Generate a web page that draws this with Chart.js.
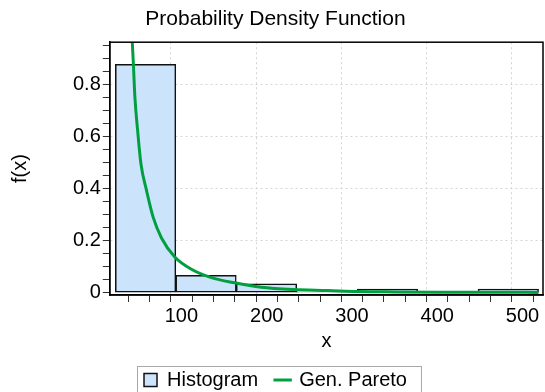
<!DOCTYPE html>
<html>
<head>
<meta charset="utf-8">
<script src="https://cdn.jsdelivr.net/npm/chart.js@4"></script>
<style>
  html, body { margin: 0; padding: 0; background: #fff; }
  #wrap { width: 545px; height: 392px; }
</style>
</head>
<body>
<div id="wrap"><canvas id="grafico" width="545" height="392"></canvas></div>
<script>
// histogram bins (centre of each bin) and relative frequencies
let binCenters = [57.95, 128.85, 199.75, 270.65, 341.55, 412.45, 483.35];
let histValues = [0.877, 0.067, 0.034, 0.003, 0.014, 0, 0.014];

// fitted Gen. Pareto density
let curveX = [41.5, 42.4, 43.6, 45.4, 48.6, 52.5, 59.1, 66.9, 76.6, 92.2, 111.7, 135, 162.3, 193.5, 232.4, 271.4, 306.4, 350, 400, 450, 518.8];
let curveY = [1.03, 0.959, 0.882, 0.753, 0.624, 0.495, 0.392, 0.289, 0.21, 0.137, 0.09, 0.058, 0.038, 0.021, 0.012, 0.0085, 0.0046, 0.003, 0.002, 0.0015, 0.001];

let xLabels = [100, 200, 300, 400, 500];
let yLabels = [0, 0.2, 0.4, 0.6, 0.8];

let fontFamily = '"Liberation Sans", Arial, sans-serif';

function isLabel(list, v) {
    return list.some(l => Math.abs(l - v) < 1e-6);
}

// box around the plot area and around the legend
let framePlugin = {
    id: 'frame',
    afterDraw(chart) {
        let ctx = chart.ctx;
        let a = chart.chartArea;
        ctx.save();
        ctx.strokeStyle = '#000';
        ctx.lineWidth = 1.5;
        ctx.strokeRect(a.left, a.top, a.right - a.left, a.bottom - a.top);
        let boxes = chart.legend.legendHitBoxes;
        if (boxes && boxes.length) {
            let l = Math.min(...boxes.map(b => b.left)) - 7;
            let r = Math.max(...boxes.map(b => b.left + b.width)) + 14;
            let mid = boxes[0].top + boxes[0].height / 2;
            ctx.strokeStyle = '#a8a8a8';
            ctx.lineWidth = 1;
            ctx.strokeRect(Math.round(l) + 0.5, Math.round(mid - 14) + 0.5, r - l, 30);
        }
        ctx.restore();
    }
};

let chart = new Chart('grafico', {
    data: {
        datasets: [{
            type: 'bar',
            label: 'Histogram',
            data: binCenters.map((x, i) => ({ x: x, y: histValues[i] })),
            backgroundColor: '#cce4fb',
            borderColor: '#111',
            borderWidth: 1.5,
            borderSkipped: false,
            barThickness: 'flex',
            barPercentage: 1,
            categoryPercentage: 1,
            pointStyle: 'rect',
            order: 2
        }, {
            type: 'line',
            label: 'Gen. Pareto',
            data: curveX.map((x, i) => ({ x: x, y: curveY[i] })),
            borderColor: '#00a040',
            backgroundColor: '#00a040',
            borderWidth: 3,
            pointRadius: 0,
            cubicInterpolationMode: 'monotone',
            pointStyle: 'line',
            order: 1
        }]
    },
    options: {
        responsive: false,
        animation: false,
        layout: { padding: { left: 8, right: 2, top: 0, bottom: -8 } },
        plugins: {
            title: {
                display: true,
                text: 'Probability Density Function',
                color: '#000',
                font: { family: fontFamily, size: 21, weight: 'normal' },
                padding: { top: 7, bottom: 10 }
            },
            legend: {
                position: 'bottom',
                labels: {
                    usePointStyle: true,
                    boxWidth: 13,
                    boxHeight: 13,
                    color: '#000',
                    font: { family: fontFamily, size: 20 },
                    padding: 18,
                    sort: (a, b) => a.datasetIndex - b.datasetIndex
                }
            },
            tooltip: { enabled: false }
        },
        scales: {
            x: {
                type: 'linear',
                min: 16,
                max: 524,
                offset: false,
                title: {
                    display: true,
                    text: 'x',
                    color: '#000',
                    font: { family: fontFamily, size: 20 },
                    padding: { top: -1, bottom: -1 }
                },
                ticks: {
                    stepSize: 25,
                    autoSkip: false,
                    includeBounds: false,
                    maxRotation: 0,
                    color: '#000',
                    padding: 2,
                    font: { family: fontFamily, size: 20 },
                    callback: v => isLabel(xLabels, v) ? String(v) : ''
                },
                grid: {
                    color: c => c.tick && isLabel(xLabels, c.tick.value) ? '#d4d4d4' : 'rgba(0,0,0,0)',
                    tickColor: '#333',
                    tickLength: 7
                },
                border: { color: '#000', width: 1.5, dash: [2, 3] }
            },
            y: {
                type: 'linear',
                min: -0.009,
                max: 0.962,
                title: {
                    display: true,
                    text: 'f(x)',
                    color: '#000',
                    font: { family: fontFamily, size: 20 },
                    padding: { top: 0, bottom: 39 }
                },
                ticks: {
                    stepSize: 0.05,
                    autoSkip: false,
                    includeBounds: false,
                    color: '#000',
                    padding: 2,
                    font: { family: fontFamily, size: 20 },
                    callback: v => isLabel(yLabels, v) ? String(Math.round(v * 10) / 10) : ''
                },
                grid: {
                    color: c => c.tick && isLabel(yLabels, c.tick.value) && c.tick.value > 0 ? '#d4d4d4' : 'rgba(0,0,0,0)',
                    tickColor: '#333',
                    tickLength: 7
                },
                border: { color: '#000', width: 1.5, dash: [2, 3] }
            }
        }
    },
    plugins: [framePlugin]
});
</script>
</body>
</html>
